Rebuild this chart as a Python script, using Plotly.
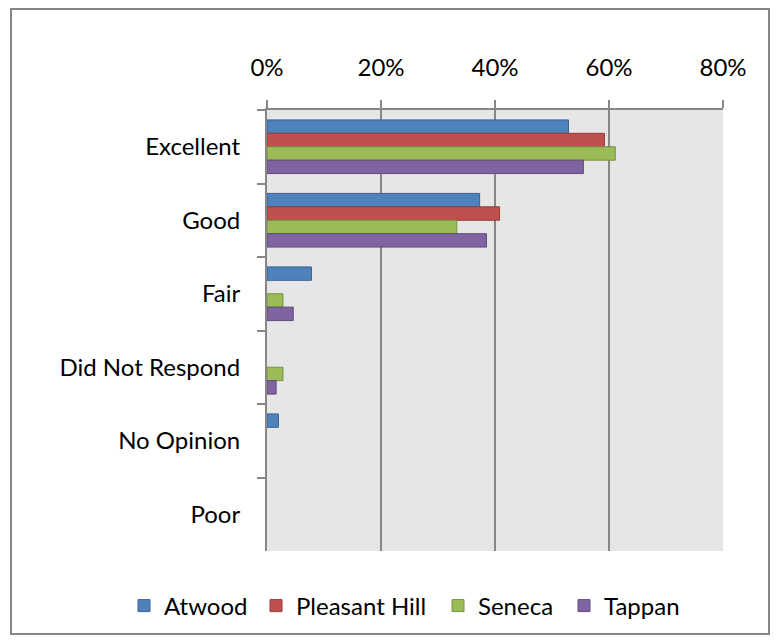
import plotly.graph_objects as go

categories = ["Excellent", "Good", "Fair", "Did Not Respond", "No Opinion", "Poor"]
series_names = ["Atwood", "Pleasant Hill", "Seneca", "Tappan"]
atwood = [0.529, 0.373, 0.078, 0.0, 0.020, 0.0]
pleasant_hill = [0.592, 0.408, 0.0, 0.0, 0.0, 0.0]
seneca = [0.611, 0.333, 0.028, 0.028, 0.0, 0.0]
tappan = [0.555, 0.385, 0.046, 0.016, 0.0, 0.0]
x_tick_vals = [0, 0.2, 0.4, 0.6, 0.8]
x_tick_text = ["0%", "20%", "40%", "60%", "80%"]

fills = ["#4F81BD", "#C0504D", "#9BBB59", "#8064A2"]
edges = ["#3A6396", "#943C3A", "#76923C", "#5F4A7A"]

# page body has an 8px margin; work in figure coordinates (screen - 8)
OFF = 8
W, H = 764, 627
L, R, T, B = 267 - OFF, 723 - OFF, 110 - OFF, 551 - OFF
FONT = "Lato"
GRID = "#878787"

# screen x where each legend entry's text should begin
legend_text_starts = [162, 294, 476, 602]

def px_to_paper_x(px):
    return (px - OFF - L) / (R - L)

def px_to_paper_y(py):
    return (B - (py - OFF)) / (B - T)

fig = go.Figure()
legend_ids = ["legend", "legend2", "legend3", "legend4"]
for name, vals, fc, ec, lid in zip(series_names, [atwood, pleasant_hill, seneca, tappan],
                                   fills, edges, legend_ids):
    fig.add_trace(go.Bar(
        y=categories, x=[v if v > 0 else None for v in vals], name=name, orientation="h",
        marker=dict(color=fc, line=dict(color=ec, width=1)), legend=lid,
    ))

fig.add_shape(type="rect", xref="paper", yref="paper",
              x0=px_to_paper_x(11), x1=px_to_paper_x(769),
              y0=px_to_paper_y(634), y1=px_to_paper_y(9),
              line=dict(color="#868686", width=2), layer="below")

legend_layouts = {}
for lid, ts in zip(legend_ids, legend_text_starts):
    legend_layouts[lid] = dict(
        orientation="h", xref="paper", x=px_to_paper_x(ts - 38), xanchor="left",
        y=px_to_paper_y(606), yanchor="middle",
        font=dict(family=FONT, size=24), bgcolor="rgba(0,0,0,0)",
    )

fig.update_layout(
    width=W, height=H,
    margin=dict(l=L, r=W - R, t=T, b=H - B, pad=0, autoexpand=False),
    paper_bgcolor="white",
    plot_bgcolor="#E6E6E6",
    barmode="group", bargap=0.27, bargroupgap=0,
    font=dict(family=FONT, size=24, color="black"),
    showlegend=True,
    xaxis=dict(side="top", range=[0, 0.8], tickvals=x_tick_vals, ticktext=x_tick_text,
               showgrid=True, gridcolor=GRID, gridwidth=2,
               showline=True, linecolor=GRID, linewidth=2,
               ticks="outside", ticklen=8, tickwidth=2, tickcolor=GRID,
               zeroline=False, ticklabelstandoff=14, fixedrange=True),
    yaxis=dict(categoryorder="array", categoryarray=categories, autorange="reversed",
               showgrid=False, showline=True, linecolor=GRID, linewidth=2,
               ticks="outside", ticklen=8, tickwidth=2, tickcolor=GRID,
               tickson="boundaries", ticklabelstandoff=20, zeroline=False),
    **legend_layouts,
)

fig.write_html("out.html")
